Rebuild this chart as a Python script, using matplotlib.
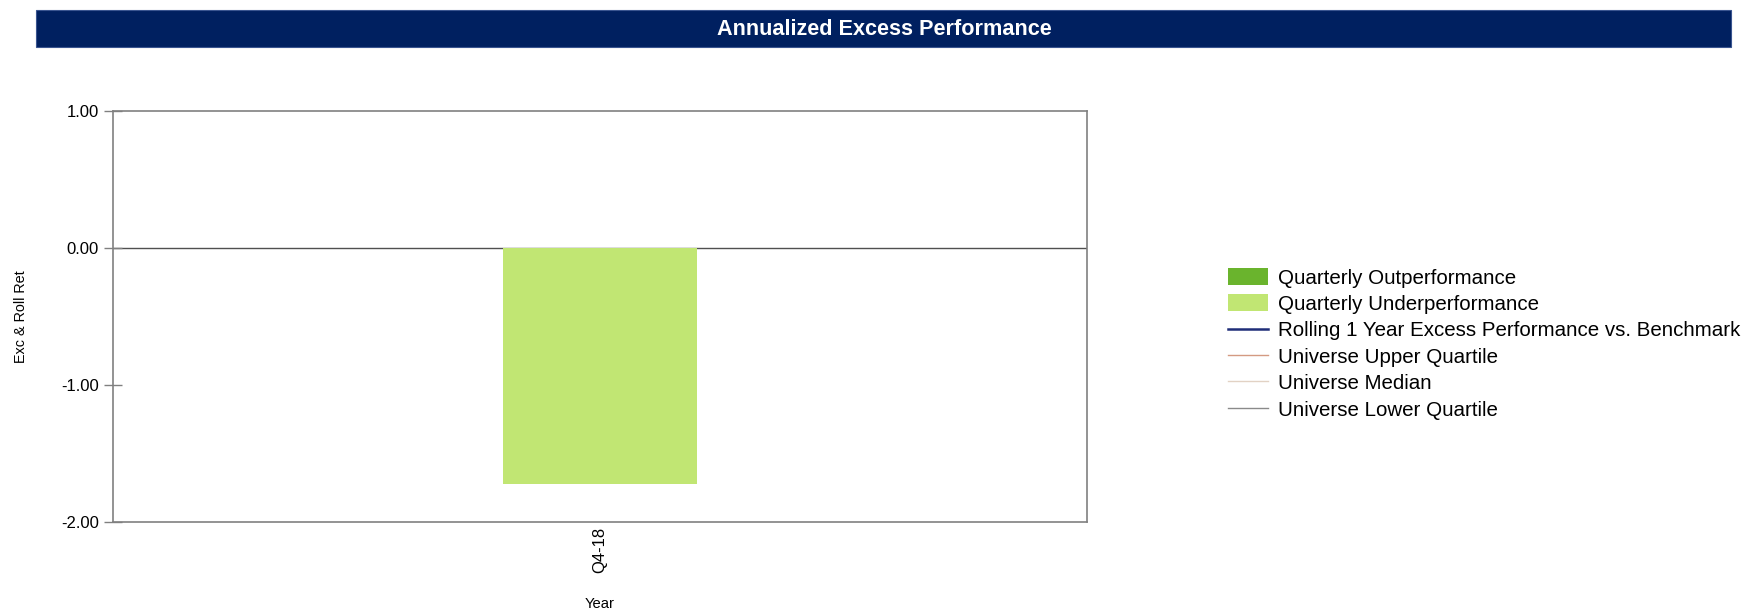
import numpy as np
import matplotlib
matplotlib.use("Agg")
from matplotlib import pyplot as plt
from matplotlib.patches import Rectangle

plt.rcParams['font.family'] = ['Liberation Sans', 'DejaVu Sans']

# quarterly excess return vs benchmark
quarters = ['Q4-18']
excess = [-1.72]

# rolling / universe series (no history yet)
rolling_1y = []
univ_upper = []
univ_median = []
univ_lower = []

yticks = [1.00, 0.00, -1.00, -2.00]

COL_OUT = '#6ab42d'
COL_UNDER = '#c1e673'
COL_ROLL = '#1f2d78'
COL_UPPER = '#d49a82'
COL_MEDIAN = '#e2d2c4'
COL_LOWER = '#8a8a8a'
COL_AXIS = '#808080'
NAVY = '#002060'

fig = plt.figure(figsize=(17.5, 6.12), dpi=100)

# banner title
fig.patches.append(Rectangle((36 / 1750, 1 - 47 / 612), 1695 / 1750, 37 / 612,
                             transform=fig.transFigure, facecolor=NAVY,
                             edgecolor='#3a5590', linewidth=0.8, zorder=0))
fig.text(884 / 1750, 1 - 35 / 612, 'Annualized Excess Performance', color='white',
         fontsize=15.6, fontweight='bold', ha='center', va='baseline')

ax = fig.add_axes([113 / 1750, 90 / 612, 974 / 1750, 411 / 612])

x = np.arange(len(quarters))
exc = np.array(excess)
out_vals = np.where(exc >= 0, exc, 0)
under_vals = np.where(exc < 0, exc, 0)
b_out = ax.bar(x, out_vals, width=0.2, color=COL_OUT, label='Quarterly Outperformance', zorder=2)
b_under = ax.bar(x, under_vals, width=0.2, color=COL_UNDER, label='Quarterly Underperformance', zorder=2)

l_roll, = ax.plot(np.arange(len(rolling_1y)), rolling_1y, color=COL_ROLL, lw=1.8,
                  label='Rolling 1 Year Excess Performance vs. Benchmark')
l_up, = ax.plot(np.arange(len(univ_upper)), univ_upper, color=COL_UPPER, lw=1.0,
                label='Universe Upper Quartile')
l_med, = ax.plot(np.arange(len(univ_median)), univ_median, color=COL_MEDIAN, lw=1.0,
                 label='Universe Median')
l_low, = ax.plot(np.arange(len(univ_lower)), univ_lower, color=COL_LOWER, lw=1.0,
                 label='Universe Lower Quartile')

ax.axhline(0, color='#505050', lw=1.0, zorder=1)

ax.set_xlim(-0.5, len(quarters) - 0.5)
ax.set_ylim(-2, 1)
ax.set_yticks(yticks)
ax.set_yticklabels(['%.2f' % v for v in yticks])
ax.set_xticks(x)
ax.set_xticklabels(quarters, rotation=90)

ax.tick_params(axis='y', direction='inout', length=13.5, width=1.0, color=COL_AXIS,
               labelsize=12, pad=3.6)
ax.tick_params(axis='x', length=0, labelsize=12, pad=3.6)
for s in ax.spines.values():
    s.set_color(COL_AXIS)
    s.set_linewidth(1.2)

ax.set_ylabel('Exc & Roll Ret', fontsize=10.4)
ax.yaxis.set_label_coords(-0.0873, 0.5)
ax.set_xlabel('Year', fontsize=10.6)
ax.xaxis.set_label_coords(0.5, -0.1825)

handles = [b_out, b_under, l_roll, l_up, l_med, l_low]
fig.legend(handles, [h.get_label() for h in handles], loc='upper left',
           bbox_to_anchor=(1228 / 1750, 1 - 268 / 612),
           frameon=False, fontsize=14.8, handlelength=1.95, handleheight=0.9,
           handletextpad=0.5, labelspacing=0.33, borderpad=0, borderaxespad=0)

fig.savefig('out.png', dpi=100)
